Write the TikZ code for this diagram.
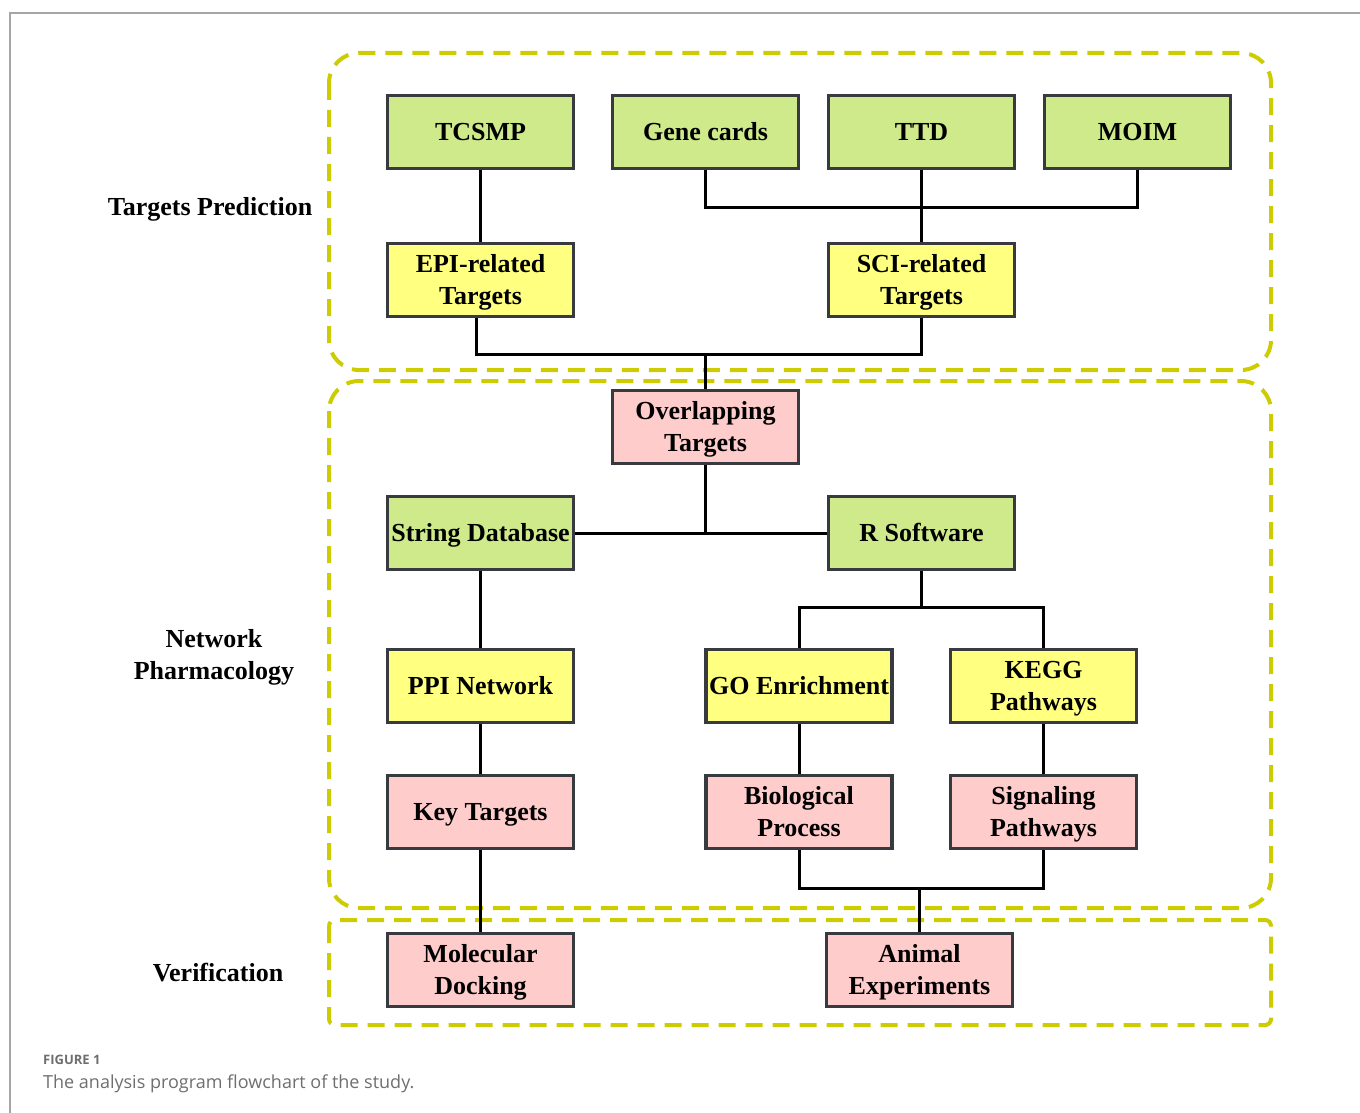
\documentclass[tikz,border=0pt]{standalone}
\usepackage{fontspec}
\setmainfont{Liberation Serif}
\newfontfamily\capfont{Open Sans}
\definecolor{boxgreen}{RGB}{206,234,139}
\definecolor{boxyellow}{RGB}{255,255,128}
\definecolor{boxpink}{RGB}{255,204,204}
\definecolor{boxedge}{RGB}{55,58,62}
\definecolor{grpline}{RGB}{204,204,0}
\definecolor{capgray}{RGB}{110,110,112}
\newcommand\bxtext[1]{\raisebox{-2pt}[\height][\depth]{\begin{tabular}{@{}c@{}}#1\end{tabular}}}
\begin{document}
\begin{tikzpicture}[x=1pt,y=-1pt,
  base/.style={draw=boxedge, line width=3.4pt, minimum width=186pt, minimum height=73pt,
    inner sep=0pt, align=center, font=\fontsize{26}{32}\selectfont\bfseries},
  gbox/.style={base, fill=boxgreen},
  ybox/.style={base, fill=boxyellow},
  pbox/.style={base, fill=boxpink},
  grp/.style={draw=grpline, line width=4pt, dash pattern=on 17pt off 10pt},
  conn/.style={draw=black, line width=3pt},
  side/.style={font=\fontsize{26}{32}\selectfont\bfseries, align=center}]
\useasboundingbox (0,0) rectangle (1360,1113);
\draw[gray!70, line width=1.2pt] (10,1113) -- (10,13) -- (1360,13);

% groups
\draw[grp, rounded corners=30pt] (329,53) rectangle (1271,370);
\draw[grp, rounded corners=30pt] (329,381) rectangle (1271,908);
\draw[grp, rounded corners=6pt] (329,920) rectangle (1271,1025);

% side labels
\node[side] (lab1) at (210,209) {Targets Prediction};
\node[side] (lab2) at (214,657) {Network\\Pharmacology};
\node[side] (lab3) at (218,973) {Verification};

% boxes
\node[gbox] (tcsmp) at (480.5,132) {\bxtext{TCSMP}};
\node[gbox] (gene) at (705.5,132) {\bxtext{Gene cards}};
\node[gbox] (ttd) at (921.5,132) {\bxtext{TTD}};
\node[gbox] (moim) at (1137.5,132) {\bxtext{MOIM}};
\node[ybox] (epi) at (480.5,280) {\bxtext{EPI-related\\Targets}};
\node[ybox] (sci) at (921.5,280) {\bxtext{SCI-related\\Targets}};
\node[pbox] (ovl) at (705.5,427) {\bxtext{Overlapping\\Targets}};
\node[gbox] (str) at (480.5,533) {\bxtext{String Database}};
\node[gbox] (rsw) at (921.5,533) {\bxtext{R Software}};
\node[ybox] (ppi) at (480.5,686) {\bxtext{PPI Network}};
\node[ybox] (go) at (799,686) {\bxtext{GO Enrichment}};
\node[ybox] (kegg) at (1043.5,686) {\bxtext{KEGG\\Pathways}};
\node[pbox] (key) at (480.5,812) {\bxtext{Key Targets}};
\node[pbox] (bio) at (799,812) {\bxtext{Biological\\Process}};
\node[pbox] (sig) at (1043.5,812) {\bxtext{Signaling\\Pathways}};
\node[pbox] (mol) at (480.5,970) {\bxtext{Molecular\\Docking}};
\node[pbox] (ani) at (919.5,970) {\bxtext{Animal\\Experiments}};

% connectors
\draw[conn] (tcsmp.south) -- (epi.north);
\draw[conn] (gene.south) -- ++(0,37) -| (moim.south);
\draw[conn] (ttd.south) -- (sci.north);
\draw[conn] ([xshift=-4pt]epi.south) -- ++(0,36) -| (sci.south);
\coordinate (j1) at (ovl.north |- 0,354);
\draw[conn] (j1) -- (ovl.north);
\draw[conn] (str.east) -- (rsw.west);
\draw[conn] (ovl.south) -- (ovl.south |- str.east);
\draw[conn] (str.south) -- (ppi.north);
\draw[conn] (rsw.south) -- ++(0,36) coordinate (j2);
\draw[conn] (go.north) |- (j2) -| (kegg.north);
\draw[conn] (ppi.south) -- (key.north);
\draw[conn] (go.south) -- (bio.north);
\draw[conn] (kegg.south) -- (sig.north);
\draw[conn] (key.south) -- (mol.north);
\draw[conn] (bio.south) -- ++(0,38) -| (sig.south);
\coordinate (j3) at (ani.north |- 0,888);
\draw[conn] (j3) -- (ani.north);

% caption
\node[anchor=base west, inner sep=0pt, text=capgray, font=\capfont\fontsize{13}{15}\selectfont\bfseries] (cap1) at (43,1064) {FIGURE 1};
\node[anchor=base west, inner sep=0pt, text=capgray, font=\capfont\fontsize{18}{21}\selectfont] (cap2) at (43,1088) {The analysis program flowchart of the study.};
\end{tikzpicture}
\end{document}
